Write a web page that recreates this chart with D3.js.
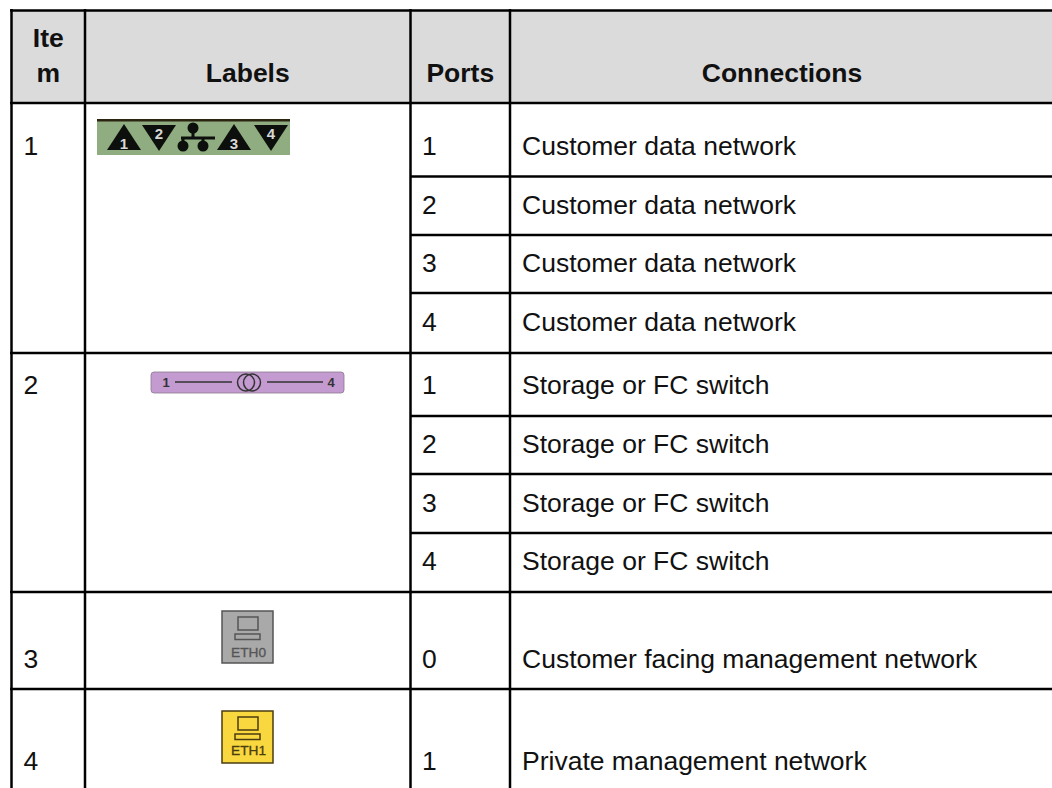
<!DOCTYPE html>
<html>
<head>
<meta charset="utf-8">
<script src="https://cdn.jsdelivr.net/npm/d3@7"></script>
<style>
    html, body { margin: 0; padding: 0; background: #fff; overflow: hidden; }
    svg { display: block; }
    text { font-family: "Liberation Sans", Arial, sans-serif; fill: #111; }
    .head { font-weight: bold; font-size: 26.5px; text-anchor: middle; }
    .cell { font-size: 26.5px; }
</style>
</head>
<body>
<svg id="chart" width="1052" height="788"></svg>
<script>
// Table content
var headers = [['Ite', 'm'], ['Labels'], ['Ports'], ['Connections']];
var items = ['1', '2', '3', '4'];
var ports = ['1', '2', '3', '4', '1', '2', '3', '4', '0', '1'];
var connections = ['Customer data network', 'Customer data network', 'Customer data network', 'Customer data network',
                   'Storage or FC switch', 'Storage or FC switch', 'Storage or FC switch', 'Storage or FC switch',
                   'Customer facing management network', 'Private management network'];
var itemRowIx = [0, 4, 8, 9];

// Column and row edges, in px
var colEdges = [11.5, 85, 410.5, 510, 1052];
var rowEdges = [103, 176.5, 235, 293, 353, 416, 474, 533, 592, 689];
var baselines = [154.5, 213.5, 272, 331, 394, 453, 512, 570, 668, 770];

var svg = d3.select('#chart');

svg.append('rect').attr('x', 11).attr('y', 10).attr('width', 1041).attr('height', 93).attr('fill', '#dbdbdb');

// Borders
svg.selectAll('line.v').data(colEdges.slice(0, 4)).enter().append('line')
    .attr('class', 'v')
    .attr('x1', function(d) { return d; }).attr('x2', function(d) { return d; })
    .attr('y1', 9).attr('y2', 788)
    .attr('stroke', '#000').attr('stroke-width', 2.5);

var hLines = [{ y: 10.5, x: 10 }, { y: 103, x: 10 }];
rowEdges.slice(1).forEach(function(y, i) {
    // rows 1-3 and 5-7 only span Ports + Connections
    var partial = [0, 1, 2, 4, 5, 6].indexOf(i) !== -1;
    hLines.push({ y: y, x: partial ? 410 : 10 });
});
svg.selectAll('line.h').data(hLines).enter().append('line')
    .attr('class', 'h')
    .attr('x1', function(d) { return d.x; }).attr('x2', 1052)
    .attr('y1', function(d) { return d.y; }).attr('y2', function(d) { return d.y; })
    .attr('stroke', '#000').attr('stroke-width', 2.5);

// Header
headers.forEach(function(lines, i) {
    var cx = (colEdges[i] + colEdges[i + 1]) / 2 + (i === 3 ? 1 : 0);
    lines.forEach(function(t, j) {
        svg.append('text').attr('class', 'head').attr('x', cx)
            .attr('y', 82 - (lines.length - 1 - j) * 35).text(t);
    });
});

// Body text
svg.selectAll('text.port').data(ports).enter().append('text')
    .attr('class', 'cell port').attr('x', 422)
    .attr('y', function(d, i) { return baselines[i]; })
    .text(function(d) { return d; });
svg.selectAll('text.conn').data(connections).enter().append('text')
    .attr('class', 'cell conn').attr('x', 522)
    .attr('y', function(d, i) { return baselines[i]; })
    .text(function(d) { return d; });
svg.selectAll('text.item').data(items).enter().append('text')
    .attr('class', 'cell item').attr('x', 23.5)
    .attr('y', function(d, i) { return baselines[itemRowIx[i]]; })
    .text(function(d) { return d; });

// Label graphics, drawn as small vector badges
function tri(g, x, up, label) {
    var w = 17;
    var p = up ? [[x - w, 150], [x + w, 150], [x, 124]] : [[x - w, 125], [x + w, 125], [x, 151]];
    g.append('polygon').attr('points', p.join(' ')).attr('fill', '#0c0f0c');
    g.append('text').attr('x', x).attr('y', up ? 149 : 139).attr('text-anchor', 'middle')
        .style('font-size', '15px').style('font-weight', 'bold').style('fill', '#d8d8d8').text(label);
}

var g1 = svg.append('g');
g1.append('rect').attr('x', 97).attr('y', 119).attr('width', 193).attr('height', 36).attr('fill', '#8fad80');
g1.append('rect').attr('x', 97).attr('y', 119).attr('width', 193).attr('height', 2.5).attr('fill', '#2a2410');
tri(g1, 124, true, '1');
tri(g1, 159, false, '2');
tri(g1, 234, true, '3');
tri(g1, 271, false, '4');
g1.append('line').attr('x1', 181).attr('x2', 215).attr('y1', 138).attr('y2', 138).attr('stroke', '#0c0f0c').attr('stroke-width', 3);
g1.append('line').attr('x1', 193).attr('x2', 193).attr('y1', 128).attr('y2', 138).attr('stroke', '#0c0f0c').attr('stroke-width', 3);
g1.append('line').attr('x1', 183).attr('x2', 183).attr('y1', 138).attr('y2', 146).attr('stroke', '#0c0f0c').attr('stroke-width', 3);
g1.append('line').attr('x1', 203).attr('x2', 203).attr('y1', 138).attr('y2', 146).attr('stroke', '#0c0f0c').attr('stroke-width', 3);
[[193, 128], [183, 146], [203, 146]].forEach(function(c) {
    g1.append('circle').attr('cx', c[0]).attr('cy', c[1]).attr('r', 5.5).attr('fill', '#0c0f0c');
});

var g2 = svg.append('g');
g2.append('rect').attr('x', 151).attr('y', 372).attr('width', 193).attr('height', 21).attr('rx', 3).attr('fill', '#c39bd0').attr('stroke', '#8a7a90').attr('stroke-width', 0.8);
g2.append('line').attr('x1', 175).attr('x2', 232).attr('y1', 382).attr('y2', 382).attr('stroke', '#333').attr('stroke-width', 1.5);
g2.append('line').attr('x1', 267).attr('x2', 323).attr('y1', 382).attr('y2', 382).attr('stroke', '#333').attr('stroke-width', 1.5);
[246, 252].forEach(function(cx) {
    g2.append('circle').attr('cx', cx).attr('cy', 382.5).attr('r', 8.5).attr('fill', 'none').attr('stroke', '#333').attr('stroke-width', 1.5);
});
g2.append('text').attr('x', 166).attr('y', 387).attr('text-anchor', 'middle').style('font-size', '13px').style('font-weight', 'bold').style('fill', '#333').text('1');
g2.append('text').attr('x', 331).attr('y', 387).attr('text-anchor', 'middle').style('font-size', '13px').style('font-weight', 'bold').style('fill', '#333').text('4');

function ethBadge(y, fill, stroke, label, textDy) {
    var g = svg.append('g');
    g.append('rect').attr('x', 222).attr('y', y).attr('width', 51).attr('height', 52).attr('fill', fill).attr('stroke', stroke).attr('stroke-width', 1.5);
    g.append('rect').attr('x', 238).attr('y', y + 6).attr('width', 20).attr('height', 13).attr('fill', 'none').attr('stroke', stroke).attr('stroke-width', 1.5);
    g.append('rect').attr('x', 235).attr('y', y + 23).attr('width', 25).attr('height', 5.5).attr('fill', 'none').attr('stroke', stroke).attr('stroke-width', 1.5);
    g.append('text').attr('x', 231).attr('y', y + textDy)
        .attr('textLength', 35).attr('lengthAdjust', 'spacingAndGlyphs')
        .style('font-size', '13px').style('fill', stroke).style('stroke', stroke).style('stroke-width', 0.3).text(label);
}
ethBadge(611, '#a9a9a9', '#555', 'ETH0', 46);
ethBadge(711, '#f8d83e', '#4a3c10', 'ETH1', 44);
</script>
</body>
</html>
